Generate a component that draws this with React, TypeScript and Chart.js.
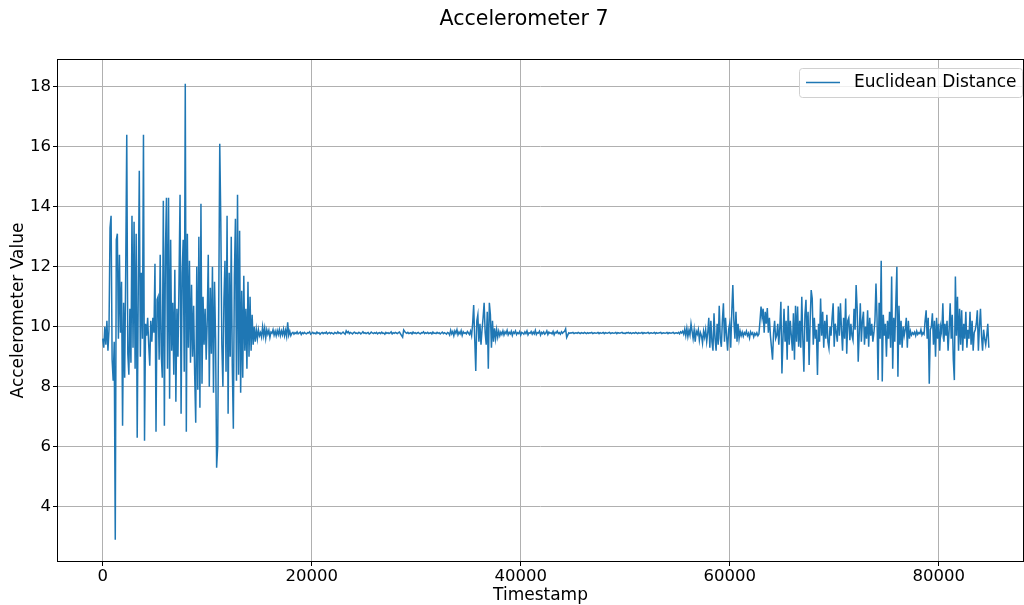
import React, { useEffect, useRef } from "react";
import { Chart, registerables } from "chart.js";

Chart.register(...registerables);

const TITLE = "Accelerometer 7";
const X_LABEL = "Timestamp";
const Y_LABEL = "Accelerometer Value";
const SERIES_LABEL = "Euclidean Distance";
const X_TICKS = [0, 20000, 40000, 60000, 80000];
const Y_TICKS = [4, 6, 8, 10, 12, 14, 16, 18];
const X_MIN = -4280;
const X_MAX = 88070;
const Y_MIN = 2.19;
const Y_MAX = 18.89;
const T_START = 0;
const T_STEP = 100;

// 0 - 15100: strong initial activity
const burstStart = [
  9.6, 9.3, 10.0, 9.4, 10.2, 9.2, 9.9, 13.3, 13.7, 8.9,
  8.2, 9.5, 2.9, 12.9, 13.1, 9.6, 12.4, 9.8, 11.5, 6.7,
  10.8, 8.3, 11.9, 16.4, 9.1, 8.4, 10.6, 8.8, 13.7, 9.3,
  13.5, 8.6, 13.1, 6.3, 11.2, 15.2, 9.0, 11.8, 9.6, 16.4,
  6.2, 10.1, 9.7, 10.3, 9.4, 8.7, 10.2, 9.5, 10.3, 9.8,
  12.1, 6.5, 10.9, 11.0, 8.9, 12.4, 9.1, 8.3, 14.2, 6.7,
  12.5, 14.3, 8.6, 14.3, 7.6, 12.9, 9.2, 10.8, 8.4, 11.9,
  7.5, 10.6, 9.0, 11.5, 14.4, 7.1, 11.8, 12.9, 8.5, 18.1,
  6.5, 13.1, 9.3, 12.2, 8.8, 11.4, 9.0, 10.7, 8.4, 6.8,
  12.0, 7.9, 13.0, 7.3, 14.1, 8.1, 11.0, 9.4, 10.6, 8.9,
  10.2, 12.4, 8.0, 11.3, 9.1, 12.0, 7.8, 11.5, 9.6, 5.3,
  6.0, 10.6, 16.1, 13.5, 9.4, 8.0, 10.9, 12.2, 8.5, 13.7,
  7.1, 11.8, 9.0, 13.0, 8.7, 6.6, 11.7, 13.6, 8.2, 14.4,
  8.4, 13.2, 7.8, 11.2, 8.3, 11.7, 9.2, 10.6, 8.6, 11.5,
  9.0, 11.0, 9.2, 10.4, 9.4, 10.0, 9.5, 9.9, 9.6, 9.9,
  9.7, 9.8,
];

// 15200 - 18000: settling
const settling = [
  9.65, 10.0, 9.7, 9.95, 9.62, 9.9, 9.75, 9.88, 9.64, 9.82,
  9.78, 9.9, 9.72, 9.85, 9.7, 9.87, 9.74, 9.9, 9.7, 9.86,
  9.73, 9.92, 9.7, 9.88, 9.68, 10.15, 9.72, 9.85, 9.7,
];

// 18100 - 35200: quiet
const quietA = [
  9.78, 9.81, 9.75, 9.80, 9.77, 9.83, 9.76, 9.79, 9.82, 9.74,
  9.80, 9.77, 9.81, 9.78, 9.76, 9.80, 9.79, 9.83, 9.75, 9.78,
  9.81, 9.77, 9.79, 9.76, 9.82, 9.78, 9.80, 9.75, 9.79, 9.81,
  9.77, 9.80, 9.78, 9.82, 9.76, 9.79, 9.81, 9.77, 9.80, 9.78,
  9.76, 9.81, 9.79, 9.77, 9.83, 9.78, 9.80, 9.76, 9.79, 9.82,
  9.78, 9.75, 9.86, 9.80, 9.84, 9.77, 9.81, 9.79, 9.76, 9.80,
  9.82, 9.78, 9.79, 9.77, 9.81, 9.80, 9.76, 9.79, 9.83, 9.78,
  9.80, 9.77, 9.79, 9.81, 9.76, 9.78, 9.82, 9.79, 9.77, 9.80,
  9.78, 9.81, 9.76, 9.79, 9.80, 9.77, 9.82, 9.78, 9.79, 9.75,
  9.81, 9.78, 9.80, 9.77, 9.79, 9.83, 9.76, 9.80, 9.78, 9.81,
  9.79, 9.77, 9.80, 9.82, 9.76, 9.70, 9.65, 9.89, 9.84, 9.80,
  9.78, 9.81, 9.77, 9.79, 9.80, 9.76, 9.82, 9.78, 9.80, 9.77,
  9.79, 9.81, 9.78, 9.76, 9.80, 9.79, 9.83, 9.77, 9.80, 9.78,
  9.81, 9.77, 9.79, 9.80, 9.76, 9.82, 9.78, 9.79, 9.77, 9.81,
  9.78, 9.80, 9.76, 9.79, 9.82, 9.77, 9.80, 9.78, 9.75, 9.81,
  9.79, 9.72, 9.88, 9.76, 9.84, 9.70, 9.86, 9.78, 9.90, 9.73,
  9.82, 9.76, 9.87, 9.71, 9.83, 9.78, 9.80, 9.76, 9.84, 9.79,
  9.74, 9.85,
];

// 35300 - 38100: short burst
const burstMid = [
  9.70, 10.1, 10.72, 9.6, 8.52, 10.2, 10.4, 9.5, 10.1, 9.4,
  9.9, 10.3, 10.8, 9.8, 9.4, 10.5, 8.6, 10.8, 10.4, 9.3,
  10.2, 9.5, 9.95, 9.6, 9.9, 9.65, 9.85, 9.7, 9.82,
];

// 38200 - 44600: mild noise
const quietB = [
  9.74, 9.86, 9.72, 9.83, 9.77, 9.88, 9.73, 9.81, 9.76, 9.85,
  9.71, 9.82, 9.78, 9.86, 9.74, 9.80, 9.77, 9.84, 9.72, 9.81,
  9.79, 9.75, 9.83, 9.77, 9.86, 9.73, 9.80, 9.78, 9.84, 9.75,
  9.82, 9.76, 9.88, 9.74, 9.80, 9.79, 9.85, 9.72, 9.81, 9.77,
  9.83, 9.75, 9.79, 9.86, 9.74, 9.82, 9.78, 9.80, 9.76, 9.84,
  9.73, 9.81, 9.79, 9.85, 9.77, 9.80, 9.75, 9.83, 9.78, 9.82,
  9.85, 9.93, 9.64, 9.72, 9.80,
];

// 44700 - 55500: very quiet
const quietC = [
  9.78, 9.80, 9.79, 9.81, 9.77, 9.79, 9.80, 9.78, 9.81, 9.79,
  9.77, 9.80, 9.79, 9.78, 9.81, 9.79, 9.77, 9.80, 9.78, 9.80,
  9.79, 9.81, 9.77, 9.79, 9.80, 9.78, 9.79, 9.81, 9.77, 9.80,
  9.78, 9.79, 9.81, 9.77, 9.80, 9.79, 9.78, 9.80, 9.81, 9.77,
  9.79, 9.80, 9.78, 9.79, 9.81, 9.77, 9.80, 9.79, 9.78, 9.80,
  9.81, 9.78, 9.79, 9.77, 9.80, 9.79, 9.81, 9.78, 9.80, 9.77,
  9.79, 9.80, 9.78, 9.81, 9.79, 9.77, 9.80, 9.78, 9.79, 9.81,
  9.77, 9.80, 9.79, 9.78, 9.80, 9.81, 9.77, 9.79, 9.80, 9.78,
  9.79, 9.81, 9.77, 9.80, 9.78, 9.79, 9.80, 9.81, 9.77, 9.79,
  9.80, 9.78, 9.79, 9.81, 9.77, 9.80, 9.79, 9.78, 9.80, 9.81,
  9.77, 9.79, 9.80, 9.78, 9.81, 9.76, 9.83, 9.79, 9.85,
];

// 55600 - 62900: activity resumes
const rampUp = [
  9.75, 9.92, 9.70, 9.95, 9.67, 9.88, 9.72, 10.1, 9.85, 9.6,
  9.9, 9.5, 9.85, 9.75, 9.9, 9.55, 9.8, 9.7, 9.45, 9.85,
  9.65, 9.9, 9.5, 9.8, 10.3, 9.3, 10.2, 9.5, 9.2, 10.45,
  9.6, 9.2, 10.1, 9.4, 10.7, 9.6, 9.33, 10.2, 10.78, 9.5,
  10.3, 9.7, 9.2, 9.9, 10.1, 9.3, 10.5, 11.39, 10.2, 9.6,
  10.5, 9.5, 10.1, 9.6, 9.85, 9.7, 9.82, 9.68, 9.8, 9.74,
  9.85, 9.7, 9.78, 9.62, 9.83, 9.75, 9.8, 9.66, 9.78, 9.72,
  9.8, 9.7, 9.76, 10.2,
];

// 63000 - 76800: sustained activity
const burstLate = [
  10.67, 10.3, 10.6, 9.8, 10.5, 10.1, 10.62, 9.8, 10.3, 9.7,
  9.3, 8.9, 9.8, 10.2, 9.6, 9.7, 10.1, 9.4, 10.0, 10.83,
  8.44, 9.6, 10.6, 9.5, 10.2, 8.9, 10.7, 9.4, 10.2, 9.7,
  9.2, 10.45, 8.9, 10.7, 9.5, 10.67, 9.33, 10.2, 9.3, 11.0,
  9.6, 8.5, 10.4, 10.9, 9.5, 10.5, 8.72, 10.2, 11.22, 10.94,
  9.4, 10.3, 9.6, 9.9, 8.39, 10.1, 9.5, 10.94, 9.7, 10.5,
  9.3, 10.2, 9.6, 10.4, 9.5, 9.28, 10.0, 9.7, 10.3, 10.78,
  9.33, 10.1, 9.8, 9.5, 10.67, 9.7, 10.78, 9.9, 9.2, 10.3,
  9.6, 10.94, 9.1, 10.2, 10.3, 9.55, 10.1, 9.7, 9.55, 10.6,
  9.9, 11.39, 10.6, 8.83, 9.8, 10.78, 9.5, 10.2, 10.5, 9.4,
  10.0, 9.6, 10.55, 9.33, 10.3, 9.7, 10.1, 9.5, 9.8, 10.2,
  11.44, 10.3, 8.22, 10.8, 9.6, 12.2, 8.17, 10.4, 9.7, 10.1,
  9.0, 10.2, 9.6, 10.5, 9.3, 11.67, 8.6, 10.3, 9.5, 10.8,
  12.0, 8.33, 10.7, 9.4, 10.2, 9.3, 10.0, 9.7, 9.9,
];

// 76900 - 78500: brief pause
const pauseLate = [
  10.3, 9.3, 10.2, 9.6, 9.85, 9.72, 9.8, 9.75, 9.82, 9.7,
  9.85, 9.74, 9.8, 9.77, 9.9, 9.72, 9.8,
];

// 78600 - 84800: final activity
const burstEnd = [
  9.75, 10.2, 10.55, 9.6, 10.3, 8.1, 9.9, 10.0, 10.45, 9.4,
  10.2, 9.0, 10.3, 9.6, 10.1, 9.2, 10.0, 9.8, 10.78, 9.5,
  10.1, 9.7, 10.2, 9.2, 9.9, 10.78, 9.6, 10.4, 8.9, 8.22,
  11.67, 9.7, 11.0, 9.2, 10.6, 9.4, 10.55, 9.2, 10.1, 9.6,
  10.5, 9.3, 9.9, 9.6, 10.5, 9.4, 10.2, 9.2, 9.8, 9.9,
  10.1, 10.55, 9.2, 10.0, 10.6, 9.7, 9.2, 9.9, 9.6, 9.4,
  9.7, 10.1, 9.3,
];

const values: number[] = [
  ...burstStart,
  ...settling,
  ...quietA,
  ...burstMid,
  ...quietB,
  ...quietC,
  ...rampUp,
  ...burstLate,
  ...pauseLate,
  ...burstEnd,
];
const timestamps: number[] = values.map((_, i) => T_START + i * T_STEP);

const FONT = "'DejaVu Sans', 'Liberation Sans', sans-serif";
const LINE_COLOR = "#1f77b4";

const overlayPlugin = {
  id: "mplOverlay",
  afterDatasetsDraw(chart: any) {
    const { ctx, chartArea: a } = chart;
    ctx.save();
    // legend box
    const bx = 799.5, by = 68.5, bw = 223, bh = 29;
    ctx.beginPath();
    if (ctx.roundRect) ctx.roundRect(bx, by, bw, bh, 3);
    else ctx.rect(bx, by, bw, bh);
    ctx.fillStyle = "rgba(255,255,255,0.8)";
    ctx.fill();
    ctx.strokeStyle = "#d0d0d0";
    ctx.lineWidth = 1;
    ctx.stroke();
    ctx.beginPath();
    ctx.moveTo(806, 82.5);
    ctx.lineTo(840, 82.5);
    ctx.strokeStyle = LINE_COLOR;
    ctx.lineWidth = 1.5;
    ctx.stroke();
    ctx.fillStyle = "#000";
    ctx.font = `17px ${FONT}`;
    ctx.textAlign = "left";
    ctx.textBaseline = "middle";
    ctx.fillText(SERIES_LABEL, 854, 82.5);
    // frame
    ctx.strokeStyle = "#000";
    ctx.lineWidth = 1;
    ctx.strokeRect(a.left - 0.5, a.top - 0.5, a.right - a.left + 1, a.bottom - a.top + 1);
    // title
    ctx.font = `20.5px ${FONT}`;
    ctx.textAlign = "center";
    ctx.textBaseline = "middle";
    ctx.fillText(TITLE, 524, 19.5);
    ctx.restore();
  },
};

export default function App() {
  const canvasRef = useRef<HTMLCanvasElement | null>(null);

  useEffect(() => {
    if (!canvasRef.current) return;
    const chart = new Chart(canvasRef.current, {
      type: "line",
      data: {
        datasets: [
          {
            label: SERIES_LABEL,
            data: timestamps.map((t, i) => ({ x: t, y: values[i] })),
            borderColor: LINE_COLOR,
            backgroundColor: LINE_COLOR,
            borderWidth: 1.5,
            pointRadius: 0,
            tension: 0,
            fill: false,
          },
        ],
      },
      options: {
        animation: false,
        responsive: false,
        devicePixelRatio: 1,
        layout: { padding: { top: 60, right: 1, bottom: 0, left: 0 } },
        plugins: {
          legend: { display: false },
          title: { display: false },
          tooltip: { enabled: false },
        },
        scales: {
          x: {
            type: "linear",
            min: X_MIN,
            max: X_MAX,
            afterBuildTicks: (scale: any) => {
              scale.ticks = X_TICKS.map((v) => ({ value: v }));
            },
            afterFit: (scale: any) => {
              scale.height = 44;
            },
            grid: {
              color: "#b0b0b0",
              lineWidth: 1,
              tickColor: "#000",
              tickLength: 5,
              drawTicks: true,
            },
            border: { display: false },
            ticks: {
              color: "#000",
              font: { family: FONT, size: 16.5 },
              padding: 1,
              maxRotation: 0,
              autoSkip: false,
              callback: (v: any) => String(v),
            },
            title: {
              display: true,
              text: X_LABEL,
              color: "#000",
              font: { family: FONT, size: 17 },
              padding: { top: 0, bottom: -1 },
            },
          },
          y: {
            type: "linear",
            min: Y_MIN,
            max: Y_MAX,
            afterBuildTicks: (scale: any) => {
              scale.ticks = Y_TICKS.map((v) => ({ value: v }));
            },
            afterFit: (scale: any) => {
              scale.width = 58;
            },
            grid: {
              color: "#b0b0b0",
              lineWidth: 1,
              tickColor: "#000",
              tickLength: 5,
              drawTicks: true,
            },
            border: { display: false },
            ticks: {
              color: "#000",
              font: { family: FONT, size: 16.5 },
              padding: 2,
              autoSkip: false,
              callback: (v: any) => String(v),
            },
            title: {
              display: true,
              text: Y_LABEL,
              color: "#000",
              font: { family: FONT, size: 17 },
              padding: { top: 8, bottom: 0 },
            },
          },
        },
      },
      plugins: [overlayPlugin],
    });
    return () => chart.destroy();
  }, []);

  return (
    <div style={{ position: "fixed", left: 0, top: 0, width: 1024, height: 605, background: "#fff" }}>
      <canvas ref={canvasRef} width={1024} height={605} style={{ display: "block" }} />
    </div>
  );
}
